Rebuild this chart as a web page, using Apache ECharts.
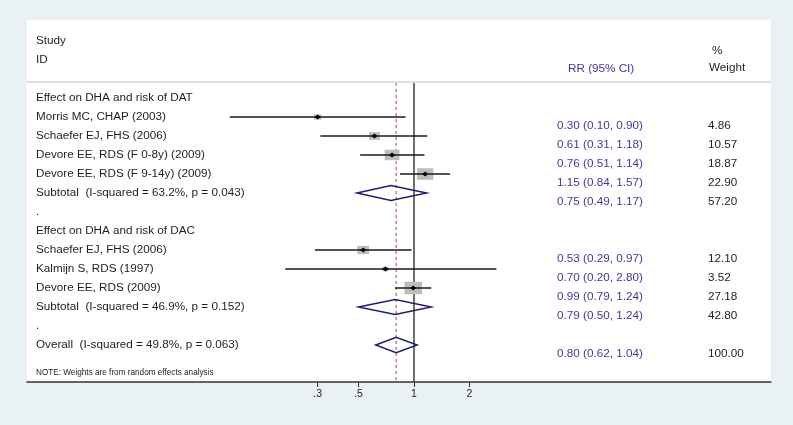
<!DOCTYPE html>
<html>
<head>
<meta charset="utf-8">
<script src="https://cdn.jsdelivr.net/npm/echarts@6/dist/echarts.min.js"></script>
<style>
html,body{margin:0;padding:0;background:#eaf1f4;}
#chart{width:793px;height:425px;}
</style>
</head>
<body>
<div id="chart"></div>
<script>
// ---- data ----
const rowLabels = [
  "Effect on DHA and risk of DAT",
  "Morris MC, CHAP (2003)",
  "Schaefer EJ, FHS (2006)",
  "Devore EE, RDS (F 0-8y) (2009)",
  "Devore EE, RDS (F 9-14y) (2009)",
  "Subtotal  (I-squared = 63.2%, p = 0.043)",
  ".",
  "Effect on DHA and risk of DAC",
  "Schaefer EJ, FHS (2006)",
  "Kalmijn S, RDS (1997)",
  "Devore EE, RDS (2009)",
  "Subtotal  (I-squared = 46.9%, p = 0.152)",
  ".",
  "Overall  (I-squared = 49.8%, p = 0.063)"
];
const studyRows = [1, 2, 3, 4, 8, 9, 10];
const studyRR   = [0.30, 0.61, 0.76, 1.15, 0.53, 0.70, 0.99];
const studyLo   = [0.10, 0.31, 0.51, 0.84, 0.29, 0.20, 0.79];
const studyHi   = [0.90, 1.18, 1.14, 1.57, 0.97, 2.80, 1.24];
const studyWt   = [4.86, 10.57, 18.87, 22.90, 12.10, 3.52, 27.18];
const poolRows  = [5, 11, 13];
const poolRR    = [0.75, 0.79, 0.80];
const poolLo    = [0.49, 0.50, 0.62];
const poolHi    = [1.17, 1.24, 1.04];
const poolWt    = [57.20, 42.80, 100.00];
const tickValues = [0.3, 0.5, 1, 2];
const tickLabels = [".3", ".5", "1", "2"];
const nullValue = 1;
const overallRR = poolRR[2];
const headerStudy = ["Study", "ID"];
const headerCI = "RR (95% CI)";
const headerWt = ["%", "Weight"];
const noteText = "NOTE: Weights are from random effects analysis";

// ---- helpers ----
const ln = Math.log;
const fmt = v => v.toFixed(2);
const ciText = (r, l, h) => fmt(r) + " (" + fmt(l) + ", " + fmt(h) + ")";

const chart = echarts.init(document.getElementById('chart'), null, {renderer: 'canvas'});

const FONT = '"Liberation Sans", Arial, Helvetica, sans-serif';
const Y_MIN = -4.105, Y_MAX = 14.947;

const studyData = studyRows.map((r, i) => [ln(studyRR[i]), r, ln(studyLo[i]), ln(studyHi[i]), studyWt[i]]);
const poolData = poolRows.map((r, i) => [ln(poolRR[i]), r, ln(poolLo[i]), ln(poolHi[i]), poolWt[i]]);
const refData = [[ln(nullValue), 0], [ln(overallRR), 1]];

const option = {
  backgroundColor: '#eaf1f4',
  animation: false,
  grid: {left: 27, top: 20, width: 744, height: 362, show: true, backgroundColor: '#ffffff', borderWidth: 0},
  xAxis: {
    type: 'value',
    position: 'bottom',
    min: -4.8375, max: 4.4625,
    splitLine: {show: false},
    axisLine: {onZero: false, lineStyle: {color: '#333', width: 1.5}},
    axisTick: {show: true, inside: false, length: 5, lineStyle: {color: '#333', width: 1}, customValues: tickValues.map(ln)},
    axisLabel: {
      customValues: tickValues.map(ln),
      inside: false,
      color: '#222', fontSize: 10.5, fontFamily: FONT, margin: 7,
      formatter: v => {
        let best = 0;
        tickValues.forEach((t, i) => { if (Math.abs(ln(t) - v) < Math.abs(ln(tickValues[best]) - v)) best = i; });
        return tickLabels[best];
      }
    }
  },
  yAxis: {
    type: 'value', inverse: true, min: Y_MIN, max: Y_MAX,
    show: false
  },
  series: [
    {
      type: 'custom', name: 'ref', data: refData, encode: {x: 0, y: 1}, z: 2,
      renderItem: (params, api) => {
        const x = api.value(0);
        const top = api.coord([x, -0.79]);
        const bot = api.coord([x, Y_MAX]);
        const dashed = api.value(1) === 1;
        return {
          type: 'line',
          shape: {x1: top[0], y1: top[1], x2: bot[0], y2: bot[1]},
          style: dashed ? {stroke: '#a04848', lineWidth: 1, lineDash: [3, 3]} : {stroke: '#333', lineWidth: 1.4}
        };
      }
    },
    {
      type: 'custom', name: 'studies', data: studyData, encode: {x: 0, y: 1}, z: 3,
      renderItem: (params, api) => {
        const c = api.coord([api.value(0), api.value(1)]);
        const l = api.coord([api.value(2), api.value(1)]);
        const h = api.coord([api.value(3), api.value(1)]);
        const w = api.value(4);
        const bw = 3.4 * Math.sqrt(w), bh = 2.4 * Math.sqrt(w);
        return {
          type: 'group',
          children: [
            {type: 'rect', shape: {x: c[0] - bw / 2, y: c[1] - bh / 2, width: bw, height: bh}, style: {fill: '#bdbdbd'}},
            {type: 'line', shape: {x1: l[0], y1: l[1], x2: h[0], y2: h[1]}, style: {stroke: '#1a1a1a', lineWidth: 1.3}},
            {type: 'polygon', shape: {points: [[c[0] - 3, c[1]], [c[0], c[1] - 2.5], [c[0] + 3, c[1]], [c[0], c[1] + 2.5]]}, style: {fill: '#000'}}
          ]
        };
      }
    },
    {
      type: 'custom', name: 'pooled', data: poolData, encode: {x: 0, y: 1}, z: 3,
      renderItem: (params, api) => {
        const c = api.coord([api.value(0), api.value(1)]);
        const l = api.coord([api.value(2), api.value(1)]);
        const h = api.coord([api.value(3), api.value(1)]);
        const hh = 7.6;
        return {
          type: 'polygon',
          shape: {points: [[l[0], l[1]], [c[0], c[1] - hh], [h[0], h[1]], [c[0], c[1] + hh]]},
          style: {fill: 'rgba(255,255,255,0)', stroke: '#1e1e6e', lineWidth: 1.5}
        };
      }
    }
  ]
};
chart.setOption(option);

// ---- text columns, positioned through the axes ----
const yPx = r => chart.convertToPixel({yAxisIndex: 0}, r);
const X_STUDY = 36, X_CI = 557, X_WT = 708;
const graphics = [];
const txt = (x, y, text, opts) => graphics.push({
  type: 'text', x: x, y: y, silent: true,
  style: Object.assign({text: text, fill: '#1e1e1e', font: '11.7px ' + FONT, textVerticalAlign: 'middle', textAlign: 'left'}, opts || {})
});
// header
txt(X_STUDY, yPx(-3), headerStudy[0]);
txt(X_STUDY, yPx(-2), headerStudy[1]);
txt(X_CI + 11, yPx(-1.53), headerCI, {fill: '#3c3c9a'});
txt(X_WT + 4, yPx(-2.5), headerWt[0]);
txt(X_WT + 1, yPx(-1.58), headerWt[1]);
// separator
graphics.push({type: 'line', silent: true, shape: {x1: 27, y1: yPx(-0.84), x2: 771, y2: yPx(-0.84)}, style: {stroke: '#dedede', lineWidth: 2}});
// row labels
rowLabels.forEach((s, r) => txt(X_STUDY, yPx(r), s));
// CI and weights (offset half a row downward as in the source)
studyRows.forEach((r, i) => {
  txt(X_CI, yPx(r + 0.47), ciText(studyRR[i], studyLo[i], studyHi[i]), {fill: '#3c3c9a'});
  txt(X_WT, yPx(r + 0.45), fmt(studyWt[i]));
});
poolRows.forEach((r, i) => {
  txt(X_CI, yPx(r + 0.47), ciText(poolRR[i], poolLo[i], poolHi[i]), {fill: '#3c3c9a'});
  txt(X_WT, yPx(r + 0.45), fmt(poolWt[i]));
});
txt(X_STUDY, yPx(14.45), noteText, {font: '8.2px ' + FONT});
chart.setOption({graphic: graphics});
</script>
</body>
</html>
